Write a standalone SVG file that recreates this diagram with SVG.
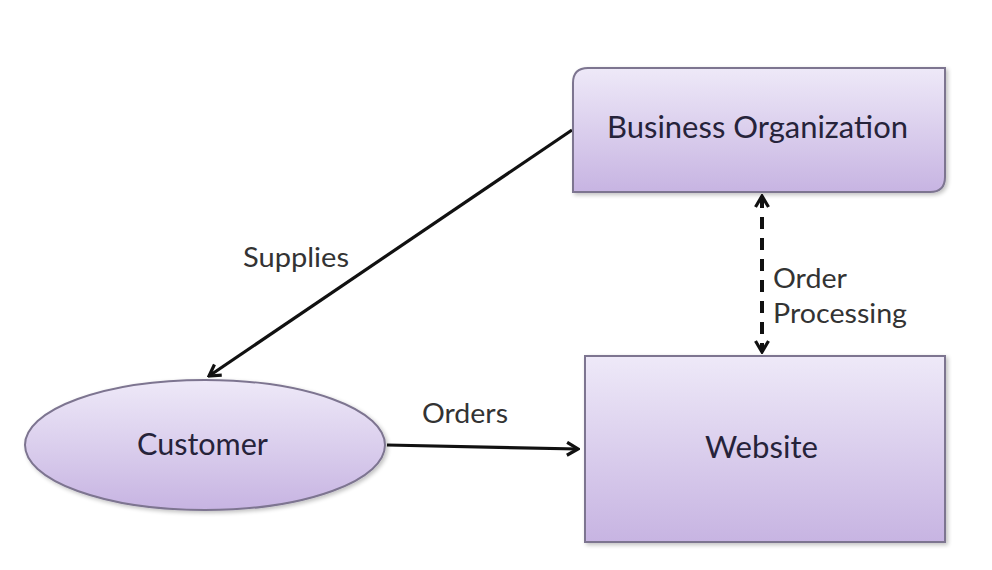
<svg xmlns="http://www.w3.org/2000/svg" width="992" height="570" viewBox="0 0 992 570">
  <style>
    .node { stroke: #7d7490; stroke-width: 2; fill: url(#purple); filter: url(#shadow); }
    .ntext { font-family: Lato, "Open Sans", "Liberation Sans", sans-serif; font-size: 30px; fill: #26233a; text-anchor: start; }
    .ltext { font-family: Lato, "Open Sans", "Liberation Sans", sans-serif; font-size: 27px; fill: #333333; text-anchor: start; }
    .conn { stroke: #111; stroke-width: 3.2; fill: none; }
    .dash { stroke-width: 4; stroke-dasharray: 12 9; }
  </style>
  <defs>
    <linearGradient id="purple" x1="0" y1="0" x2="0" y2="1">
      <stop offset="0" stop-color="#eee9f8"/>
      <stop offset="1" stop-color="#c7b4e2"/>
    </linearGradient>
    <filter id="shadow" x="-10%" y="-10%" width="125%" height="130%">
      <feGaussianBlur in="SourceAlpha" stdDeviation="2"/>
      <feOffset dx="2" dy="2" result="b"/>
      <feComponentTransfer><feFuncA type="linear" slope="0.25"/></feComponentTransfer>
      <feMerge><feMergeNode/><feMergeNode in="SourceGraphic"/></feMerge>
    </filter>
    <marker id="arrow" viewBox="0 0 16 16" refX="14" refY="8" markerWidth="16" markerHeight="16" markerUnits="userSpaceOnUse" orient="auto-start-reverse">
      <path d="M3,1.5 L14,8 L3,14.5" fill="none" stroke="#111" stroke-width="3.2" stroke-linejoin="miter"/>
    </marker>
  </defs>
  <rect width="992" height="570" fill="#ffffff"/>

  <g id="connectors">
    <line class="conn" x1="572" y1="130" x2="209" y2="376" marker-end="url(#arrow)"/>
    <line class="conn" x1="387" y1="445" x2="578" y2="449" marker-end="url(#arrow)"/>
    <line class="conn dash" x1="762" y1="196" x2="762" y2="352" marker-start="url(#arrow)" marker-end="url(#arrow)"/>
    <text class="ltext" x="243" y="267" textLength="106" lengthAdjust="spacingAndGlyphs">Supplies</text>
    <text class="ltext" x="422" y="423" textLength="86" lengthAdjust="spacingAndGlyphs">Orders</text>
    <text class="ltext" x="773" y="288" textLength="74" lengthAdjust="spacingAndGlyphs">Order</text>
    <text class="ltext" x="773" y="323" textLength="134" lengthAdjust="spacingAndGlyphs">Processing</text>
  </g>

  <g id="business-organization">
    <path class="node" d="M588,68 L945,68 L945,177 Q945,192 930,192 L573,192 L573,83 Q573,68 588,68 Z"/>
    <text class="ntext" x="607" y="138" textLength="301" lengthAdjust="spacingAndGlyphs">Business Organization</text>
  </g>

  <g id="website">
    <rect class="node" x="585" y="356" width="360" height="186"/>
    <text class="ntext" x="705" y="458" textLength="113" lengthAdjust="spacingAndGlyphs">Website</text>
  </g>

  <g id="customer">
    <ellipse class="node" cx="205" cy="445" rx="180" ry="65"/>
    <text class="ntext" x="137" y="455" textLength="131" lengthAdjust="spacingAndGlyphs">Customer</text>
  </g>
</svg>
